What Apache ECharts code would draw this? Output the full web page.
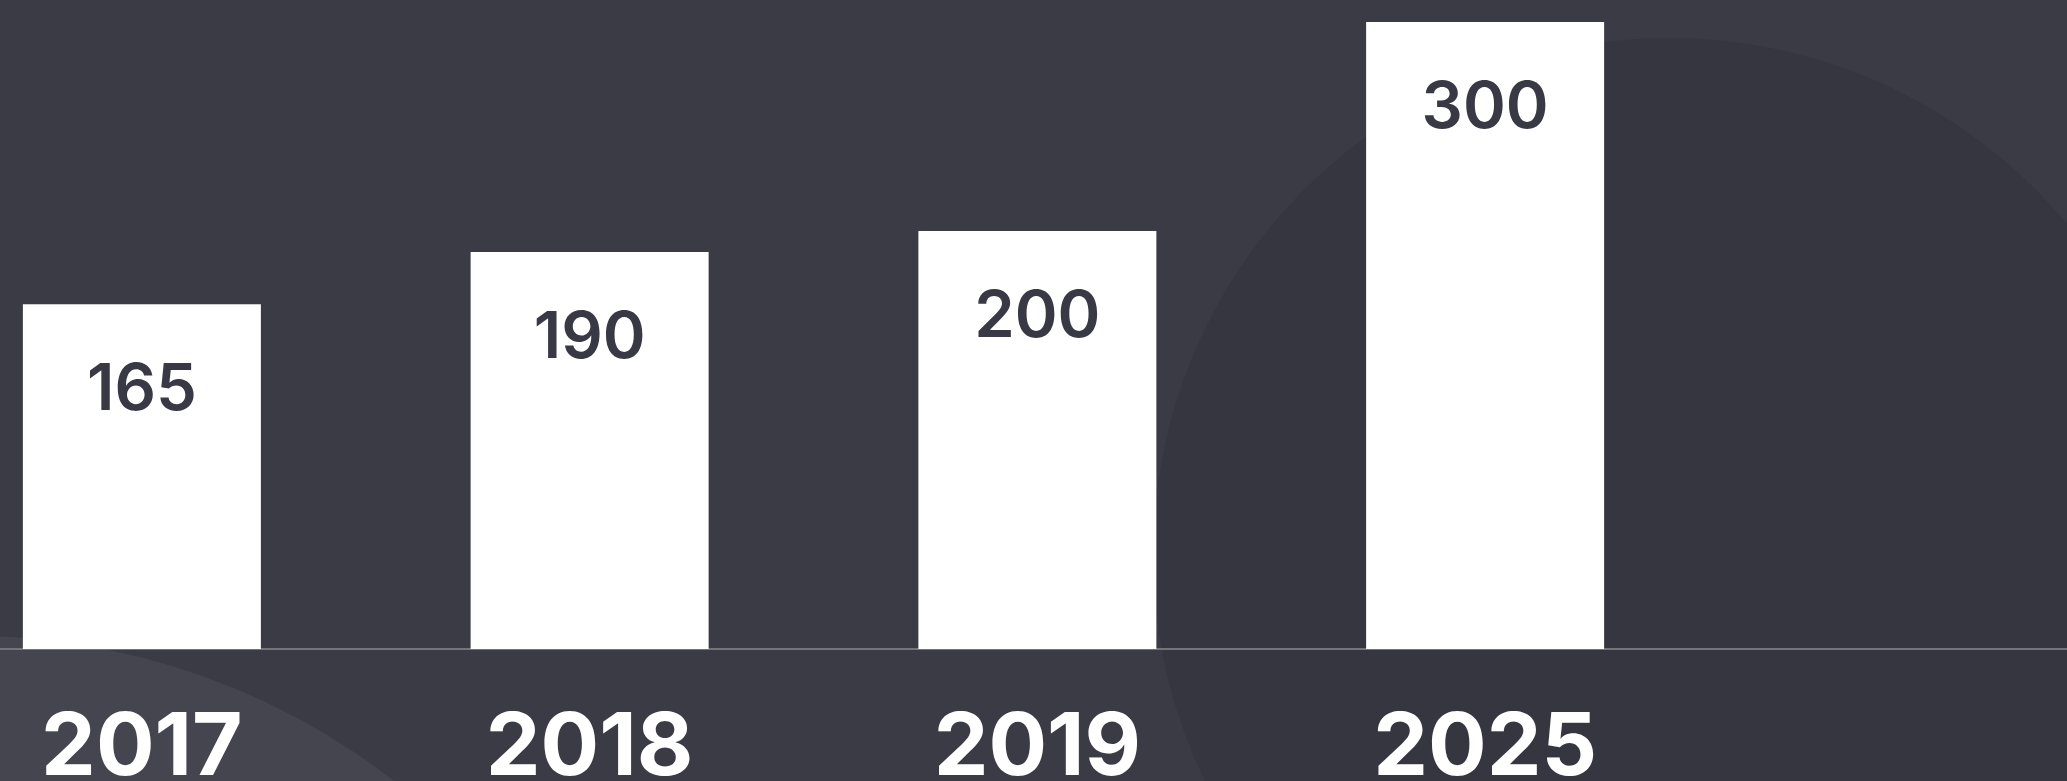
<!DOCTYPE html>
<html>
<head>
<meta charset="utf-8">
<title>bar</title>
<script src="https://cdn.jsdelivr.net/npm/echarts@6.0.0/dist/echarts.min.js"></script>
<style>
html, body { margin: 0; padding: 0; background: #3b3b46; }
#chart1 { width: 2067px; height: 781px; }
</style>
</head>
<body>
<div id="chart1"></div>
<script>
//数据
var years = ['2017', '2018', '2019', '2025'];
var values = [165, 190, 200, 300];

var bgColor = '#3b3b46';
var labelDark = '#393945';
var fontName = 'Inter';

var myChart = echarts.init(document.getElementById('chart1'));

var option = {
	backgroundColor: bgColor,
	animation: false,
	//背景上的两个圆
	graphic: [{
		type: 'circle',
		z: -10,
		silent: true,
		shape: { cx: 1670, cy: 555, r: 517 },
		style: { fill: '#363640' }
	}, {
		type: 'circle',
		z: -10,
		silent: true,
		shape: { cx: -29, cy: 1326, r: 690 },
		style: { fill: '#45454f' }
	}],
	grid: [{
		left: -82,
		right: 358,
		top: 22,
		bottom: 132,
		containLabel: false,
		outerBoundsMode: 'none'
	}, {
		left: 0,
		right: 0,
		top: 22,
		bottom: 132,
		containLabel: false,
		outerBoundsMode: 'none'
	}],
	xAxis: [{
		type: 'category',
		gridIndex: 0,
		data: years,
		axisLine: { show: false },
		axisTick: { show: false },
		axisLabel: {
			margin: 56,
			color: '#ffffff',
			fontSize: 87,
			fontWeight: 'bold',
			fontFamily: fontName
		}
	}, {
		//横线，铺满整个宽度
		type: 'value',
		gridIndex: 1,
		min: 0,
		max: 1,
		axisLine: { show: true, lineStyle: { color: '#75747b', width: 2 } },
		axisTick: { show: false },
		axisLabel: { show: false },
		splitLine: { show: false }
	}],
	yAxis: [{
		type: 'value',
		gridIndex: 0,
		min: 0,
		max: 300,
		show: false
	}, {
		type: 'value',
		gridIndex: 1,
		min: 0,
		max: 1,
		show: false
	}],
	series: [{
		type: 'bar',
		xAxisIndex: 0,
		yAxisIndex: 0,
		data: values,
		barWidth: 238,
		itemStyle: { color: '#ffffff' },
		label: {
			show: true,
			position: 'insideTop',
			distance: 54,
			color: labelDark,
			fontSize: 65,
			fontWeight: 600,
			fontFamily: fontName
		},
		z: 5
	}]
};

myChart.setOption(option);
</script>
</body>
</html>
